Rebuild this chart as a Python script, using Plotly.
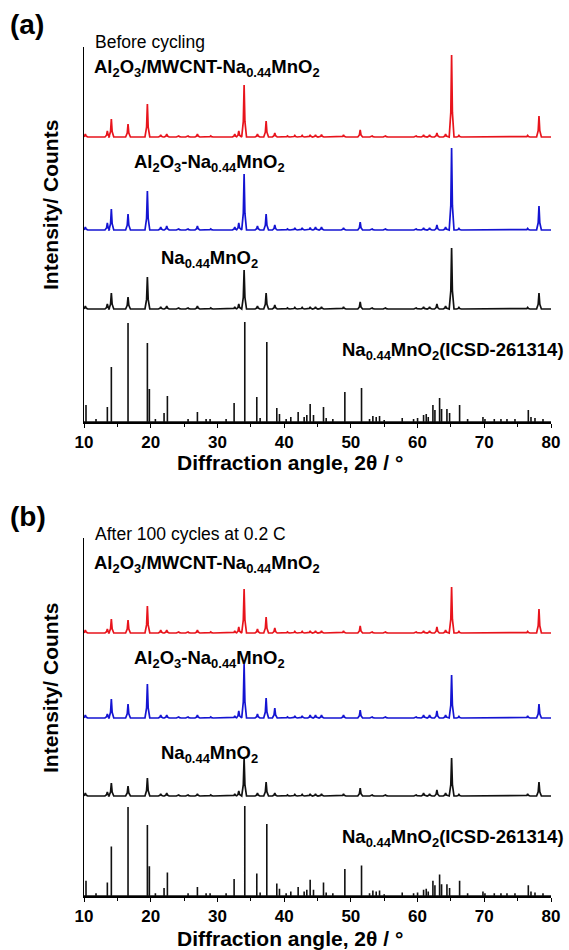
import plotly.graph_objects as go

# ---------------- data ----------------
# common peak positions of the measured patterns (2theta, deg)
peak_pos = [10.2, 13.5, 14.1, 16.6, 19.5, 21.5, 22.4, 24.2, 25.6, 27.0, 29.0, 32.6, 33.2, 34.0,
            36.0, 37.3, 38.6, 40.5, 41.6, 42.7, 43.9, 44.7, 45.6, 48.9, 51.4, 53.2, 55.2,
            59.8, 60.9, 61.8, 62.9, 64.2, 65.1, 66.2, 69.5, 71.9, 73.5, 76.5, 78.2]

# panel (a) before cycling – peak heights (a.u.)
red_a = [3, 6, 18, 13, 33, 2, 3, 1, 1, 3, 1, 3, 6, 52, 3, 16, 4, 1, 1.5, 1.5, 2, 2, 2.5, 2, 7, 1, 1,
         1, 2, 2, 4, 3, 82, 1.5, 0.5, 0.5, 0.5, 1.5, 21]
blue_a = [3, 7, 21, 16, 39, 3, 4, 1, 1, 4, 1, 3, 7, 56, 4, 16, 5, 1, 2, 2, 2.5, 3, 3, 2, 8, 1, 1,
          1, 2, 2, 5, 3, 82, 1.5, 0.5, 0.5, 0.5, 1.5, 24]
black_a = [3, 5, 16, 12, 32, 2, 3, 1, 1, 3, 1, 2, 5, 39, 3, 16, 4, 1, 1.5, 1.5, 2, 2, 2, 2, 7, 1, 1,
           1, 2, 2, 5, 3, 61, 1.5, 0.5, 0.5, 0.5, 1.5, 16]

# panel (b) after 100 cycles – peak heights (a.u.)
red_b = [3, 4, 14, 13, 27, 3, 3, 1, 1, 3, 1, 2, 6, 44, 4, 16, 5, 1, 1.5, 1.5, 2, 2, 2, 2, 7, 1, 1,
         1, 2, 2, 6, 3, 46, 1.5, 0.5, 0.5, 0.5, 1.5, 24]
blue_b = [3, 4, 19, 14, 34, 3, 3, 1, 1, 3, 1, 2, 7, 54, 4, 20, 10, 1, 2, 2, 3, 3, 3, 3, 8, 1, 1,
          1, 3, 3, 7, 3, 43, 1.5, 0.5, 0.5, 0.5, 2, 14]
black_b = [3, 4, 13, 10, 18, 2, 3, 1, 1, 2, 1, 2, 5, 38, 3, 14, 3, 1, 1.5, 1.5, 2, 2, 2, 2, 8, 1, 1,
           1, 3, 2, 6, 3, 38, 1.5, 0.5, 0.5, 0.5, 2, 14]

# reference pattern Na0.44MnO2 (ICSD-261314): stick positions and intensities
icsd_pos = [10.3, 11.8, 13.5, 14.1, 16.6, 19.5, 19.8, 20.7, 22.0, 22.5, 25.6, 27.0, 28.3, 28.9,
            31.3, 32.5, 34.1, 35.9, 36.4, 37.4, 38.9, 39.3, 40.3, 41.0, 42.1, 43.0, 43.4, 43.9,
            44.4, 45.9, 46.3, 47.3, 49.1, 51.6, 52.8, 53.3, 53.8, 54.3, 55.0, 57.7, 59.4, 60.0,
            60.9, 61.3, 61.6, 62.3, 62.6, 63.3, 63.6, 64.4, 64.8, 66.3, 67.5, 69.8, 70.1, 71.5,
            72.5, 73.4, 74.6, 76.6, 77.0, 77.6, 78.8]
icsd_int = [17, 3, 15, 55, 99, 79, 33, 3, 9, 26, 3, 10, 3, 3,
            3, 19, 100, 25, 4, 80, 14, 8, 3, 5, 10, 5, 7, 18,
            7, 15, 4, 3, 30, 34, 3, 6, 5, 6, 2, 4, 3, 4,
            7, 8, 5, 17, 12, 24, 13, 13, 9, 17, 3, 5, 3, 3,
            3, 3, 3, 12, 5, 4, 3]

# vertical offsets of the stacked patterns [ICSD, Na0.44MnO2, Al2O3-, Al2O3/MWCNT-]
offsets_a = [0, 113, 192, 285]
offsets_b = [0, 100, 178, 263]
# display scale of the ICSD sticks in each panel
icsd_scale = [1.0, 0.9]

x_ticks = [10, 20, 30, 40, 50, 60, 70, 80]

# ---------------- helpers ----------------
W, H = 569, 950
ML, MR = 84, 18
FONT = "Liberation Sans, Arial, Helvetica, sans-serif"
RED, BLUE, BLACK = "#e8141c", "#1414d2", "#111111"


def px_x(px):
    return (px - ML) / (W - ML - MR)


def px_y(py):
    return 1 - py / H


def profile(pos, hts, off, lo=10, hi=80, hw=0.36, core=0.12):
    xs, ys = [lo], [off]
    for p, h in zip(pos, hts):
        for dx, f in ((-hw, 0), (-core, 0.3), (0, 1), (core, 0.3), (hw, 0)):
            xx = p + dx
            if lo <= xx <= hi:
                xs.append(xx)
                ys.append(off + f * h)
    xs.append(hi)
    ys.append(off)
    return xs, ys


def sticks(pos, hts, off, scale=1.0, lo=10, hi=80):
    xs, ys = [lo], [off]
    for p, h in zip(pos, hts):
        xs += [p, p, p]
        ys += [off, off + h * scale, off]
    xs.append(hi)
    ys.append(off)
    return xs, ys


fig = go.Figure()

panels = [
    ("x", "y", offsets_a, icsd_scale[0], [red_a, blue_a, black_a]),
    ("x2", "y2", offsets_b, icsd_scale[1], [red_b, blue_b, black_b]),
]
for xa, ya, offs, sc, (r, b, k) in panels:
    xs, ys = sticks(icsd_pos, icsd_int, offs[0], sc)
    fig.add_trace(go.Scatter(x=xs, y=ys, mode="lines", line=dict(color=BLACK, width=1.6),
                             xaxis=xa, yaxis=ya, showlegend=False, hoverinfo="skip"))
    for hts, off, col in ((k, offs[1], BLACK), (b, offs[2], BLUE), (r, offs[3], RED)):
        xs, ys = profile(peak_pos, hts, off)
        fig.add_trace(go.Scatter(x=xs, y=ys, mode="lines", line=dict(color=col, width=1.7),
                                 xaxis=xa, yaxis=ya, showlegend=False, hoverinfo="skip"))

# axes geometry (pixels)
top_a, bot_a = 47, 422
top_b, bot_b = 538, 896

xaxis_common = dict(range=[10, 80], tickmode="array", tickvals=x_ticks,
                    ticktext=[str(t) for t in x_ticks],
                    showline=True, linecolor="black", linewidth=1.5, mirror=False,
                    ticks="outside", ticklen=4, tickwidth=1.3, tickcolor="black",
                    minor=dict(dtick=5, ticks="outside", ticklen=3, tickwidth=1.2, tickcolor="black"),
                    showgrid=False, zeroline=False,
                    tickfont=dict(family=FONT, size=17, color="black", weight="bold"))
yaxis_common = dict(showline=True, linecolor="black", linewidth=1.2, ticks="",
                    showticklabels=False, showgrid=False, zeroline=False)

fig.update_layout(
    width=W, height=H,
    margin=dict(l=ML, r=MR, t=0, b=0),
    paper_bgcolor="white", plot_bgcolor="white",
    xaxis=dict(domain=[0, 1], anchor="y", **xaxis_common),
    yaxis=dict(domain=[px_y(bot_a), px_y(top_a)], anchor="x", range=[0, bot_a - top_a],
               **yaxis_common),
    xaxis2=dict(domain=[0, 1], anchor="y2", **xaxis_common),
    yaxis2=dict(domain=[px_y(bot_b), px_y(top_b)], anchor="x2", range=[0, bot_b - top_b],
                **yaxis_common),
)

AL_MWCNT = "Al<sub>2</sub>O<sub>3</sub>/MWCNT-Na<sub>0.44</sub>MnO<sub>2</sub>"
AL = "Al<sub>2</sub>O<sub>3</sub>-Na<sub>0.44</sub>MnO<sub>2</sub>"
NA = "Na<sub>0.44</sub>MnO<sub>2</sub>"
ICSD = "Na<sub>0.44</sub>MnO<sub>2</sub>(ICSD-261314)"

lab = dict(family=FONT, size=18.5, color="black", weight="bold")
reg = dict(family=FONT, size=17.5, color="black")
big = dict(family=FONT, size=28, color="black", weight="bold")
xt = dict(family=FONT, size=21, color="black", weight="bold")

texts = [
    # (text, px x, px y, font, xanchor)
    ("(a)", 8, 24, big, "left"),
    ("Before cycling", 93, 42, reg, "left"),
    (AL_MWCNT, 92, 68, lab, "left"),
    (AL, 132, 163, lab, "left"),
    (NA, 159, 259, lab, "left"),
    (ICSD, 340, 351, lab, "left"),
    ("(b)", 8, 516, big, "left"),
    ("After 100 cycles at 0.2 C", 93, 534, reg, "left"),
    (AL_MWCNT, 92, 564, lab, "left"),
    (AL, 132, 659, lab, "left"),
    (NA, 159, 754, lab, "left"),
    (ICSD, 340, 838, lab, "left"),
    ("Diffraction angle, 2θ / °", 290, 462, xt, "center"),
    ("Diffraction angle, 2θ / °", 290, 938, xt, "center"),
]
for t, x, y, f, xa in texts:
    fig.add_annotation(text=t, x=px_x(x), y=px_y(y), xref="paper", yref="paper",
                       xanchor=xa, yanchor="middle", showarrow=False, font=f)

for yc in (205, 688):
    fig.add_annotation(text="Intensity/ Counts", x=px_x(50), y=px_y(yc), xref="paper", yref="paper",
                       xanchor="center", yanchor="middle", showarrow=False, textangle=-90,
                       font=dict(family=FONT, size=21, color="black", weight="bold"))

fig.write_html("out.html")
